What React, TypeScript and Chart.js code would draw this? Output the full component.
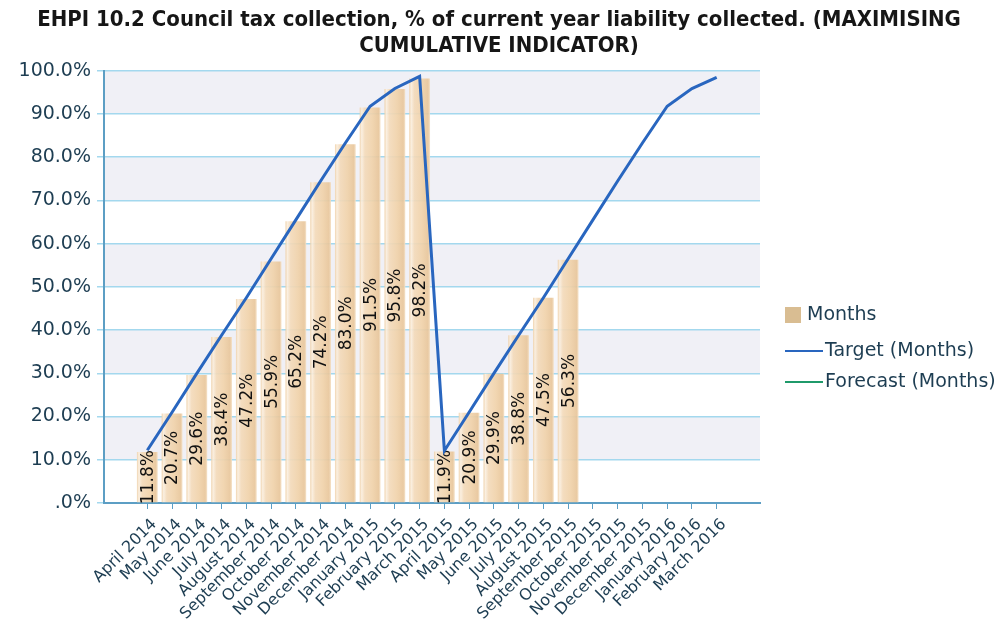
import React, { useEffect, useRef } from 'react';
import { Chart, registerables } from 'chart.js';

Chart.register(...registerables);

const titleLines = [
  'EHPI 10.2 Council tax collection, % of current year liability collected. (MAXIMISING',
  'CUMULATIVE INDICATOR)',
];

const categories = [
  'April 2014', 'May 2014', 'June 2014', 'July 2014', 'August 2014', 'September 2014',
  'October 2014', 'November 2014', 'December 2014', 'January 2015', 'February 2015', 'March 2015',
  'April 2015', 'May 2015', 'June 2015', 'July 2015', 'August 2015', 'September 2015',
  'October 2015', 'November 2015', 'December 2015', 'January 2016', 'February 2016', 'March 2016',
];

const monthsValues: (number | null)[] = [
  11.8, 20.7, 29.6, 38.4, 47.2, 55.9, 65.2, 74.2, 83.0, 91.5, 95.8, 98.2,
  11.9, 20.9, 29.9, 38.8, 47.5, 56.3, null, null, null, null, null, null,
];

const targetValues: (number | null)[] = [
  12.2, 21.0, 30.0, 38.8, 47.5, 56.5, 65.5, 74.5, 83.3, 91.8, 95.9, 98.7,
  12.1, 21.0, 30.0, 38.8, 47.5, 56.5, 65.5, 74.5, 83.3, 91.8, 95.9, 98.5,
];

const forecastValues: (number | null)[] = [];

const yTickValues = [0, 10, 20, 30, 40, 50, 60, 70, 80, 90, 100];

const seriesNames = ['Months', 'Target (Months)', 'Forecast (Months)'];

const FONT = '"DejaVu Sans", Verdana, sans-serif';
const TEXT_COLOR = '#1d3d52';
const AXIS_COLOR = '#5c9ec4';
const GRID_COLOR = '#a3d8ee';
const BAND_COLOR = '#f0f0f6';
const BAR_COLOR = '#f0d3ac';
const TARGET_COLOR = '#2966bf';
const FORECAST_COLOR = '#1f9a6a';

const bandPlugin = {
  id: 'bands',
  beforeDraw(chart: any) {
    const { ctx, chartArea, scales } = chart;
    const y = scales.y;
    if (!y) return;
    ctx.save();
    for (let i = 0; i < yTickValues.length - 1; i++) {
      const lo = yTickValues[i];
      const hi = yTickValues[i + 1];
      const shaded = (yTickValues.length - 2 - i) % 2 === 0;
      if (!shaded) continue;
      const top = y.getPixelForValue(hi);
      const bottom = y.getPixelForValue(lo);
      ctx.fillStyle = BAND_COLOR;
      ctx.fillRect(chartArea.left, top, chartArea.right - chartArea.left, bottom - top);
    }
    ctx.restore();
  },
};

const barLabelPlugin = {
  id: 'barLabels',
  afterDatasetDraw(chart: any, args: any) {
    if (args.index !== 0) return;
    const meta = chart.getDatasetMeta(0);
    const ctx = chart.ctx;
    ctx.save();
    ctx.font = `17px ${FONT}`;
    ctx.fillStyle = '#111111';
    ctx.textAlign = 'center';
    ctx.textBaseline = 'middle';
    meta.data.forEach((el: any, i: number) => {
      const v = monthsValues[i];
      if (v == null) return;
      const { x, y, base } = el.getProps(['x', 'y', 'base'], true);
      ctx.save();
      ctx.translate(x, (y + base) / 2);
      ctx.rotate(-Math.PI / 2);
      ctx.fillText(v.toFixed(1) + '%', 0, 1);
      ctx.restore();
    });
    ctx.restore();
  },
};

const legendPlugin = {
  id: 'customLegend',
  afterDraw(chart: any) {
    const { ctx } = chart;
    const ds = chart.data.datasets;
    ctx.save();
    ctx.font = `19px ${FONT}`;
    ctx.textBaseline = 'middle';
    ctx.textAlign = 'left';
    const x0 = 785;
    const rows = [315, 351, 382];
    ds.forEach((d: any, i: number) => {
      const yy = rows[i];
      if (d.type === 'bar') {
        ctx.fillStyle = '#d9bd92';
        ctx.fillRect(x0, yy - 8, 16, 16);
        ctx.fillStyle = TEXT_COLOR;
        ctx.fillText(d.label, x0 + 22, yy);
      } else {
        ctx.strokeStyle = d.borderColor;
        ctx.lineWidth = 2;
        ctx.beginPath();
        ctx.moveTo(x0, yy);
        ctx.lineTo(x0 + 38, yy);
        ctx.stroke();
        ctx.fillStyle = TEXT_COLOR;
        ctx.fillText(d.label, x0 + 40, yy);
      }
    });
    ctx.restore();
  },
};

function barGradient(context: any) {
  const chart = context.chart;
  const xs = chart.scales && chart.scales.x;
  if (!xs || context.type !== 'data') return BAR_COLOR;
  const cx = xs.getPixelForValue(context.dataIndex);
  if (!Number.isFinite(cx)) return BAR_COLOR;
  const w = 21;
  const g = chart.ctx.createLinearGradient(cx - w / 2, 0, cx + w / 2, 0);
  g.addColorStop(0, 'rgba(238,207,166,0.92)');
  g.addColorStop(0.1, 'rgba(250,238,222,0.92)');
  g.addColorStop(0.25, 'rgba(243,218,186,0.92)');
  g.addColorStop(0.6, 'rgba(240,210,170,0.92)');
  g.addColorStop(0.9, 'rgba(232,198,155,0.92)');
  g.addColorStop(1, 'rgba(245,226,200,0.92)');
  return g;
}

export default function App() {
  const canvasRef = useRef<HTMLCanvasElement | null>(null);

  useEffect(() => {
    if (!canvasRef.current) return;
    const chart = new Chart(canvasRef.current, {
      data: {
        datasets: [
          {
            type: 'bar',
            label: seriesNames[0],
            data: monthsValues.map((v, i) => ({ x: i, y: v })) as any,
            backgroundColor: barGradient as any,
            borderWidth: 0,
            barPercentage: 1,
            categoryPercentage: 0.84,
            order: 1,
          },
          {
            type: 'line',
            label: seriesNames[1],
            data: targetValues.map((v, i) => ({ x: i, y: v })) as any,
            borderColor: TARGET_COLOR,
            borderWidth: 3,
            pointRadius: 0,
            tension: 0,
            order: 0,
          },
          {
            type: 'line',
            label: seriesNames[2],
            data: forecastValues.map((v, i) => ({ x: i, y: v })) as any,
            borderColor: FORECAST_COLOR,
            borderWidth: 3,
            pointRadius: 0,
            order: 0,
          },
        ],
      },
      options: {
        responsive: false,
        animation: false,
        layout: { padding: { left: 0, right: 0, top: 0, bottom: 0 } },
        plugins: {
          legend: { display: false },
          tooltip: { enabled: false },
          title: {
            display: true,
            text: titleLines,
            color: '#161616',
            font: { family: '"DejaVu Sans Condensed", "DejaVu Sans", sans-serif', size: 22, weight: 'bold', lineHeight: 1.2 },
            padding: { top: 7, bottom: 11 },
          },
        },
        scales: {
          x: {
            type: 'linear',
            offset: false,
            min: -1.75,
            max: 24.75,
            afterBuildTicks: (scale: any) => {
              scale.ticks = categories.map((_, i) => ({ value: i }));
            },
            afterFit: (scale: any) => {
              scale.height = 121;
            },
            ticks: {
              autoSkip: false,
              minRotation: 45,
              maxRotation: 45,
              padding: 6,
              labelOffset: 7,
              color: TEXT_COLOR,
              font: { family: FONT, size: 16 },
              callback: (v: any) => categories[v as number] ?? '',
            },
            grid: {
              display: true,
              offset: false,
              drawOnChartArea: false,
              drawTicks: true,
              tickLength: 6,
              color: AXIS_COLOR,
            },
            border: { display: true, color: AXIS_COLOR, width: 2 },
          },
          y: {
            type: 'linear',
            position: 'left',
            min: 0,
            max: 100,
            afterBuildTicks: (scale: any) => {
              scale.ticks = yTickValues.map((v) => ({ value: v }));
            },
            afterFit: (scale: any) => {
              scale.width = 104;
            },
            ticks: {
              padding: 6,
              color: TEXT_COLOR,
              font: { family: FONT, size: 19 },
              callback: (v: any) => (v === 0 ? '.0%' : Number(v).toFixed(1) + '%'),
            },
            grid: {
              color: GRID_COLOR,
              lineWidth: 1.5,
              tickLength: 7,
            },
            border: { display: true, color: AXIS_COLOR, width: 2 },
          },
          legendSpace: {
            type: 'linear',
            position: 'right',
            min: 0,
            max: 100,
            display: true,
            afterFit: (scale: any) => {
              scale.width = 238;
            },
            ticks: { display: false },
            grid: { display: false, drawTicks: false },
            border: { display: false },
          },
        },
      },
      plugins: [bandPlugin, barLabelPlugin, legendPlugin],
    } as any);
    return () => chart.destroy();
  }, []);

  return (
    <div style={{ position: 'absolute', left: 0, top: 0, width: 998, height: 624, background: '#ffffff' }}>
      <canvas ref={canvasRef} width={998} height={624} style={{ display: 'block' }} />
    </div>
  );
}
